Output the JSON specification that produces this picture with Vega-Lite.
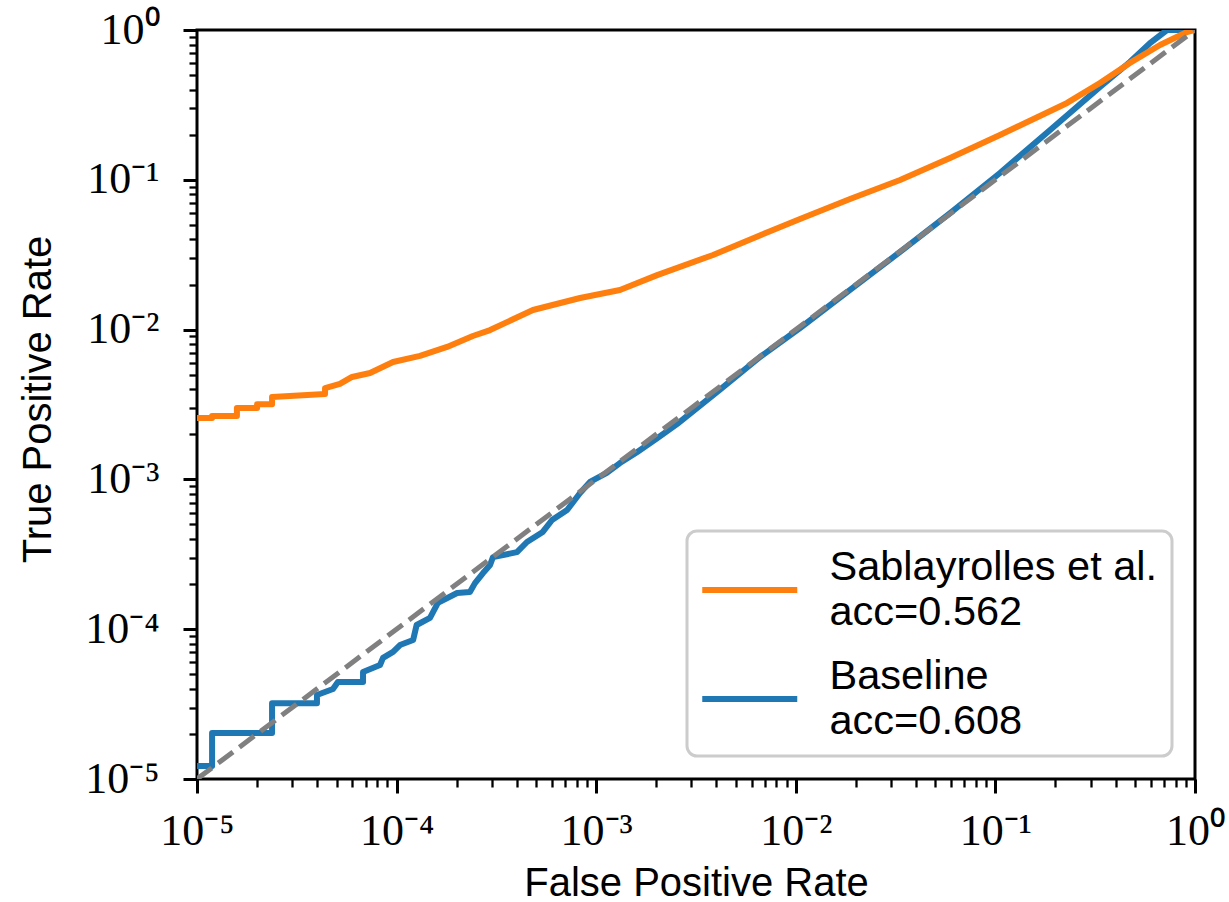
{
  "$schema": "https://vega.github.io/schema/vega-lite/v6.json",
  "width": 998,
  "height": 749,
  "autosize": {"type": "none"},
  "padding": {"left": 197, "top": 30, "right": 34, "bottom": 123},
  "background": "white",
  "config": {
    "view": {"stroke": "black", "strokeWidth": 3},
    "axis": {"domain": false, "grid": false, "ticks": true, "tickColor": "black", "tickOpacity": 1, "labelColor": "black", "titleColor": "black"}
  },
  "datasets": {
    "curves": [
      {"method": "Sablayrolles et al.|acc=0.562", "fpr": 1e-5, "tpr": 0.00257},
      {"method": "Sablayrolles et al.|acc=0.562", "fpr": 1.19e-5, "tpr": 0.00257},
      {"method": "Sablayrolles et al.|acc=0.562", "fpr": 1.19e-5, "tpr": 0.00265},
      {"method": "Sablayrolles et al.|acc=0.562", "fpr": 1.585e-5, "tpr": 0.00265},
      {"method": "Sablayrolles et al.|acc=0.562", "fpr": 1.585e-5, "tpr": 0.0030},
      {"method": "Sablayrolles et al.|acc=0.562", "fpr": 2.0e-5, "tpr": 0.0030},
      {"method": "Sablayrolles et al.|acc=0.562", "fpr": 2.0e-5, "tpr": 0.00318},
      {"method": "Sablayrolles et al.|acc=0.562", "fpr": 2.377e-5, "tpr": 0.00318},
      {"method": "Sablayrolles et al.|acc=0.562", "fpr": 2.377e-5, "tpr": 0.00355},
      {"method": "Sablayrolles et al.|acc=0.562", "fpr": 4.38e-5, "tpr": 0.00372},
      {"method": "Sablayrolles et al.|acc=0.562", "fpr": 4.38e-5, "tpr": 0.00407},
      {"method": "Sablayrolles et al.|acc=0.562", "fpr": 5.2e-5, "tpr": 0.00434},
      {"method": "Sablayrolles et al.|acc=0.562", "fpr": 5.98e-5, "tpr": 0.00483},
      {"method": "Sablayrolles et al.|acc=0.562", "fpr": 7.36e-5, "tpr": 0.00513},
      {"method": "Sablayrolles et al.|acc=0.562", "fpr": 9.6e-5, "tpr": 0.00608},
      {"method": "Sablayrolles et al.|acc=0.562", "fpr": 0.000131, "tpr": 0.00667},
      {"method": "Sablayrolles et al.|acc=0.562", "fpr": 0.000179, "tpr": 0.00766},
      {"method": "Sablayrolles et al.|acc=0.562", "fpr": 0.000241, "tpr": 0.00906},
      {"method": "Sablayrolles et al.|acc=0.562", "fpr": 0.000294, "tpr": 0.00993},
      {"method": "Sablayrolles et al.|acc=0.562", "fpr": 0.000482, "tpr": 0.01352},
      {"method": "Sablayrolles et al.|acc=0.562", "fpr": 0.00083, "tpr": 0.01626},
      {"method": "Sablayrolles et al.|acc=0.562", "fpr": 0.001315, "tpr": 0.01837},
      {"method": "Sablayrolles et al.|acc=0.562", "fpr": 0.00202, "tpr": 0.0231},
      {"method": "Sablayrolles et al.|acc=0.562", "fpr": 0.00385, "tpr": 0.0315},
      {"method": "Sablayrolles et al.|acc=0.562", "fpr": 0.00769, "tpr": 0.0462},
      {"method": "Sablayrolles et al.|acc=0.562", "fpr": 0.0105, "tpr": 0.0547},
      {"method": "Sablayrolles et al.|acc=0.562", "fpr": 0.0187, "tpr": 0.0745},
      {"method": "Sablayrolles et al.|acc=0.562", "fpr": 0.0333, "tpr": 0.0998},
      {"method": "Sablayrolles et al.|acc=0.562", "fpr": 0.0593, "tpr": 0.140},
      {"method": "Sablayrolles et al.|acc=0.562", "fpr": 0.1054, "tpr": 0.199},
      {"method": "Sablayrolles et al.|acc=0.562", "fpr": 0.2287, "tpr": 0.326},
      {"method": "Sablayrolles et al.|acc=0.562", "fpr": 0.334, "tpr": 0.443},
      {"method": "Sablayrolles et al.|acc=0.562", "fpr": 0.472, "tpr": 0.603},
      {"method": "Sablayrolles et al.|acc=0.562", "fpr": 0.668, "tpr": 0.794},
      {"method": "Sablayrolles et al.|acc=0.562", "fpr": 0.912, "tpr": 0.970},
      {"method": "Sablayrolles et al.|acc=0.562", "fpr": 1.0, "tpr": 1.0},
      {"method": "Baseline|acc=0.608", "fpr": 1e-5, "tpr": 1.22e-5},
      {"method": "Baseline|acc=0.608", "fpr": 1.19e-5, "tpr": 1.22e-5},
      {"method": "Baseline|acc=0.608", "fpr": 1.19e-5, "tpr": 2.03e-5},
      {"method": "Baseline|acc=0.608", "fpr": 2.377e-5, "tpr": 2.03e-5},
      {"method": "Baseline|acc=0.608", "fpr": 2.377e-5, "tpr": 3.21e-5},
      {"method": "Baseline|acc=0.608", "fpr": 3.99e-5, "tpr": 3.21e-5},
      {"method": "Baseline|acc=0.608", "fpr": 3.99e-5, "tpr": 3.64e-5},
      {"method": "Baseline|acc=0.608", "fpr": 4.8e-5, "tpr": 3.99e-5},
      {"method": "Baseline|acc=0.608", "fpr": 5.08e-5, "tpr": 4.44e-5},
      {"method": "Baseline|acc=0.608", "fpr": 6.79e-5, "tpr": 4.44e-5},
      {"method": "Baseline|acc=0.608", "fpr": 6.79e-5, "tpr": 5.18e-5},
      {"method": "Baseline|acc=0.608", "fpr": 8.26e-5, "tpr": 5.77e-5},
      {"method": "Baseline|acc=0.608", "fpr": 8.55e-5, "tpr": 6.43e-5},
      {"method": "Baseline|acc=0.608", "fpr": 9.6e-5, "tpr": 7.05e-5},
      {"method": "Baseline|acc=0.608", "fpr": 0.000104, "tpr": 7.84e-5},
      {"method": "Baseline|acc=0.608", "fpr": 0.000121, "tpr": 8.47e-5},
      {"method": "Baseline|acc=0.608", "fpr": 0.000126, "tpr": 0.0001067},
      {"method": "Baseline|acc=0.608", "fpr": 0.000147, "tpr": 0.000119},
      {"method": "Baseline|acc=0.608", "fpr": 0.000161, "tpr": 0.00015},
      {"method": "Baseline|acc=0.608", "fpr": 0.000201, "tpr": 0.0001745},
      {"method": "Baseline|acc=0.608", "fpr": 0.000233, "tpr": 0.000177},
      {"method": "Baseline|acc=0.608", "fpr": 0.000247, "tpr": 0.000203},
      {"method": "Baseline|acc=0.608", "fpr": 0.000271, "tpr": 0.000237},
      {"method": "Baseline|acc=0.608", "fpr": 0.000294, "tpr": 0.000268},
      {"method": "Baseline|acc=0.608", "fpr": 0.000304, "tpr": 0.000303},
      {"method": "Baseline|acc=0.608", "fpr": 0.000401, "tpr": 0.000327},
      {"method": "Baseline|acc=0.608", "fpr": 0.00045, "tpr": 0.000382},
      {"method": "Baseline|acc=0.608", "fpr": 0.00054, "tpr": 0.000446},
      {"method": "Baseline|acc=0.608", "fpr": 0.000601, "tpr": 0.000536},
      {"method": "Baseline|acc=0.608", "fpr": 0.000715, "tpr": 0.000625},
      {"method": "Baseline|acc=0.608", "fpr": 0.00083, "tpr": 0.000811},
      {"method": "Baseline|acc=0.608", "fpr": 0.000931, "tpr": 0.000962},
      {"method": "Baseline|acc=0.608", "fpr": 0.00113, "tpr": 0.001105},
      {"method": "Baseline|acc=0.608", "fpr": 0.001315, "tpr": 0.001285},
      {"method": "Baseline|acc=0.608", "fpr": 0.0016, "tpr": 0.00152},
      {"method": "Baseline|acc=0.608", "fpr": 0.00202, "tpr": 0.00188},
      {"method": "Baseline|acc=0.608", "fpr": 0.00254, "tpr": 0.00234},
      {"method": "Baseline|acc=0.608", "fpr": 0.00417, "tpr": 0.00398},
      {"method": "Baseline|acc=0.608", "fpr": 0.00662, "tpr": 0.00656},
      {"method": "Baseline|acc=0.608", "fpr": 0.0105, "tpr": 0.01025},
      {"method": "Baseline|acc=0.608", "fpr": 0.0187, "tpr": 0.0184},
      {"method": "Baseline|acc=0.608", "fpr": 0.0333, "tpr": 0.033},
      {"method": "Baseline|acc=0.608", "fpr": 0.0593, "tpr": 0.06},
      {"method": "Baseline|acc=0.608", "fpr": 0.1054, "tpr": 0.111},
      {"method": "Baseline|acc=0.608", "fpr": 0.188, "tpr": 0.215},
      {"method": "Baseline|acc=0.608", "fpr": 0.334, "tpr": 0.416},
      {"method": "Baseline|acc=0.608", "fpr": 0.472, "tpr": 0.611},
      {"method": "Baseline|acc=0.608", "fpr": 0.595, "tpr": 0.818},
      {"method": "Baseline|acc=0.608", "fpr": 0.724, "tpr": 1.0},
      {"method": "Baseline|acc=0.608", "fpr": 1.0, "tpr": 1.0}
    ],
    "diag": [
      {"fpr": 1e-5, "tpr": 1e-5},
      {"fpr": 1.0, "tpr": 1.0}
    ]
  },
  "encoding": {
    "x": {
      "field": "fpr", "type": "quantitative",
      "scale": {"type": "log", "domain": [1e-5, 1], "nice": false},
      "axis": {
        "orient": "bottom", "tickCount": 200, "ticks": true, "tickColor": "black",
        "values": [1e-5, 2e-5, 3e-5, 4e-5, 5e-5, 6e-5, 7e-5, 8e-5, 9e-5, 0.0001, 0.0002, 0.0003, 0.0004, 0.0005, 0.0006, 0.0007, 0.0008, 0.0009, 0.001, 0.002, 0.003, 0.004, 0.005, 0.006, 0.007, 0.008, 0.009, 0.01, 0.02, 0.03, 0.04, 0.05, 0.06, 0.07, 0.08, 0.09, 0.1, 0.2, 0.3, 0.4, 0.5, 0.6, 0.7, 0.8, 0.9, 1],
        "labelExpr": "abs(log(datum.value)/LN10 - round(log(datum.value)/LN10)) > 0.001 ? '' : '10' + (datum.value > 0.5 ? '⁰' : datum.value > 0.05 ? '⁻¹' : datum.value > 0.005 ? '⁻²' : datum.value > 0.0005 ? '⁻³' : datum.value > 0.00005 ? '⁻⁴' : '⁻⁵')",
        "labelFont": "Liberation Serif", "labelFontSize": 44,
        "labelPadding": 16, "labelFlush": false, "labelOverlap": false,
        "tickSize": {"condition": {"test": "abs(log(datum.value)/LN10 - round(log(datum.value)/LN10)) < 0.001", "value": 14}, "value": 8},
        "tickWidth": {"condition": {"test": "abs(log(datum.value)/LN10 - round(log(datum.value)/LN10)) < 0.001", "value": 3}, "value": 2.3},
        "title": "False Positive Rate",
        "titleFont": "Liberation Sans", "titleFontSize": 40, "titleFontWeight": "normal",
        "titleBaseline": "alphabetic", "titleY": 116
      }
    },
    "y": {
      "field": "tpr", "type": "quantitative",
      "scale": {"type": "log", "domain": [1e-5, 1], "nice": false},
      "axis": {
        "orient": "left", "tickCount": 200, "ticks": true, "tickColor": "black",
        "values": [1e-5, 2e-5, 3e-5, 4e-5, 5e-5, 6e-5, 7e-5, 8e-5, 9e-5, 0.0001, 0.0002, 0.0003, 0.0004, 0.0005, 0.0006, 0.0007, 0.0008, 0.0009, 0.001, 0.002, 0.003, 0.004, 0.005, 0.006, 0.007, 0.008, 0.009, 0.01, 0.02, 0.03, 0.04, 0.05, 0.06, 0.07, 0.08, 0.09, 0.1, 0.2, 0.3, 0.4, 0.5, 0.6, 0.7, 0.8, 0.9, 1],
        "labelExpr": "abs(log(datum.value)/LN10 - round(log(datum.value)/LN10)) > 0.001 ? '' : '10' + (datum.value > 0.5 ? '⁰' : datum.value > 0.05 ? '⁻¹' : datum.value > 0.005 ? '⁻²' : datum.value > 0.0005 ? '⁻³' : datum.value > 0.00005 ? '⁻⁴' : '⁻⁵')",
        "labelFont": "Liberation Serif", "labelFontSize": 44,
        "labelPadding": 24, "labelFlush": false, "labelOverlap": false,
        "tickSize": {"condition": {"test": "abs(log(datum.value)/LN10 - round(log(datum.value)/LN10)) < 0.001", "value": 14}, "value": 8},
        "tickWidth": {"condition": {"test": "abs(log(datum.value)/LN10 - round(log(datum.value)/LN10)) < 0.001", "value": 3}, "value": 2.3},
        "title": "True Positive Rate",
        "titleFont": "Liberation Sans", "titleFontSize": 40, "titleFontWeight": "normal",
        "titleBaseline": "alphabetic", "titleX": -147, "titleY": 369
      }
    }
  },
  "layer": [
    {
      "data": {"name": "curves"},
      "transform": [{"filter": "datum.method == 'Baseline|acc=0.608'"}],
      "mark": {"type": "line", "strokeWidth": 6, "strokeJoin": "round", "clip": true},
      "encoding": {
        "color": {
          "field": "method", "type": "nominal",
          "scale": {"domain": ["Sablayrolles et al.|acc=0.562", "Baseline|acc=0.608"], "range": ["#ff7f0e", "#1f77b4"]},
          "legend": {
            "title": " ", "titleFontSize": 10, "titlePadding": 8,
            "orient": "bottom-right", "offset": 23,
            "symbolType": "M-2,0H2", "symbolSize": 2256, "symbolStrokeWidth": 6, "symbolOffset": 21.75,
            "labelFont": "Liberation Sans", "labelFontSize": 41.5, "labelLimit": 700, "labelOffset": 52.75,
            "labelExpr": "split(datum.label, '|')",
            "padding": 14, "rowPadding": 22, "cornerRadius": 10,
            "strokeColor": "#cccccc", "fillColor": "white",
            "encode": {
              "legend": {"update": {"strokeWidth": {"value": 3}}},
              "labels": {"update": {"lineHeight": {"value": 45}, "dy": {"value": -22.5}}}
            }
          }
        },
        "order": {"value": null}
      }
    },
    {
      "data": {"name": "curves"},
      "transform": [{"filter": "datum.method == 'Sablayrolles et al.|acc=0.562'"}],
      "mark": {"type": "line", "strokeWidth": 6, "strokeJoin": "round", "clip": true},
      "encoding": {
        "color": {
          "field": "method", "type": "nominal",
          "scale": {"domain": ["Sablayrolles et al.|acc=0.562", "Baseline|acc=0.608"], "range": ["#ff7f0e", "#1f77b4"]},
          "legend": {
            "title": " ", "titleFontSize": 10, "titlePadding": 8,
            "orient": "bottom-right", "offset": 23,
            "symbolType": "M-2,0H2", "symbolSize": 2256, "symbolStrokeWidth": 6, "symbolOffset": 21.75,
            "labelFont": "Liberation Sans", "labelFontSize": 41.5, "labelLimit": 700, "labelOffset": 52.75,
            "labelExpr": "split(datum.label, '|')",
            "padding": 14, "rowPadding": 22, "cornerRadius": 10,
            "strokeColor": "#cccccc", "fillColor": "white",
            "encode": {
              "legend": {"update": {"strokeWidth": {"value": 3}}},
              "labels": {"update": {"lineHeight": {"value": 45}, "dy": {"value": -22.5}}}
            }
          }
        },
        "order": {"value": null}
      }
    },
    {
      "data": {"name": "diag"},
      "mark": {"type": "line", "strokeWidth": 5, "color": "#808080", "strokeDash": [18.5, 8], "clip": true},
      "encoding": {}
    }
  ]
}
